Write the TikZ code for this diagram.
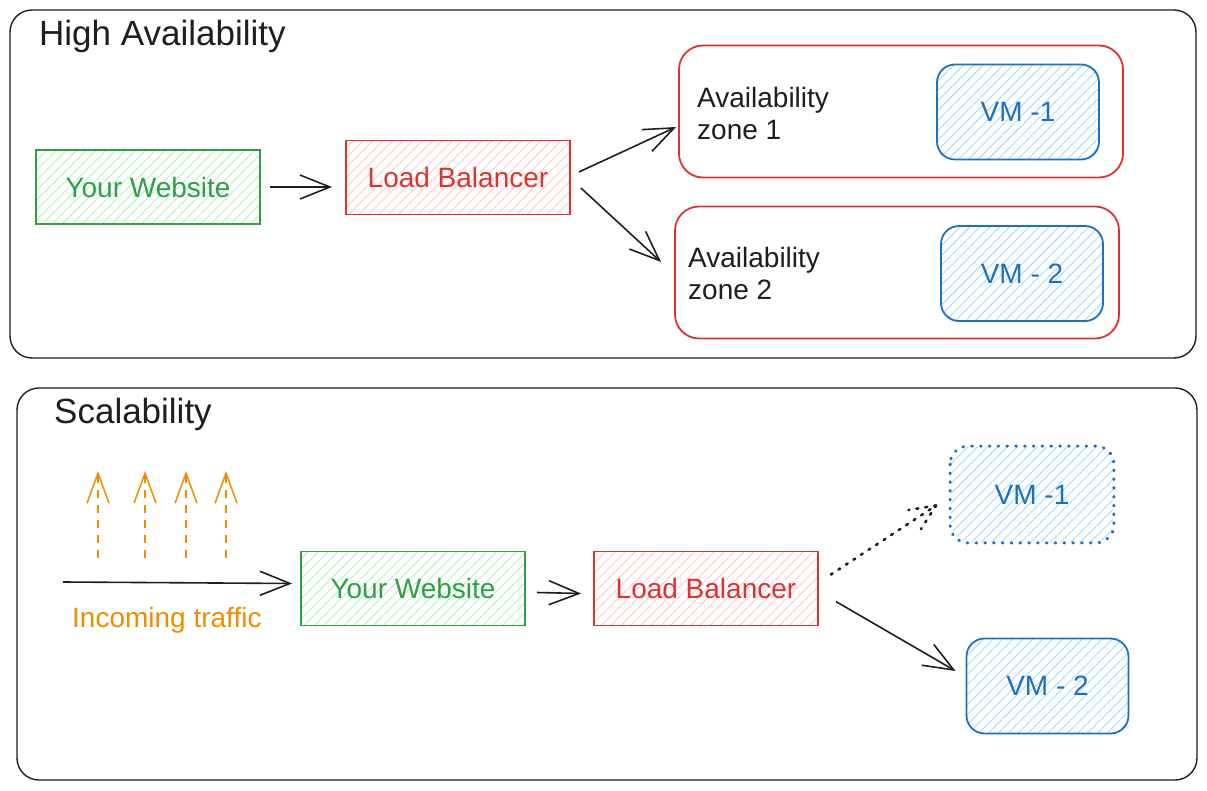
\documentclass[tikz,border=0pt]{standalone}
\usepackage{fontspec}
\setmainfont{Liberation Sans}
\usetikzlibrary{arrows.meta,patterns.meta,calc}
\definecolor{ink}{HTML}{1E1E1E}
\definecolor{gstroke}{HTML}{2F9E44}
\definecolor{gfill}{HTML}{B2F2BB}
\definecolor{rstroke}{HTML}{E03131}
\definecolor{rfill}{HTML}{FFC9C9}
\definecolor{bstroke}{HTML}{1971C2}
\definecolor{bfill}{HTML}{A5D8FF}
\definecolor{ostroke}{HTML}{F08C00}
\tikzset{
  x=1pt,y=-1pt,
  every node/.style={font=\fontsize{28}{32}\selectfont, inner sep=0pt},
  panel/.style={draw=ink, line width=1.4pt, rounded corners=22pt},
  titletxt/.style={font=\fontsize{35}{40}\selectfont, text=ink, anchor=west},
  greenbox/.style={draw=gstroke, line width=1.8pt, text=gstroke, minimum width=224pt, minimum height=74pt,
    pattern={Lines[angle=45,distance=7pt,line width=0.9pt]}, pattern color=gfill},
  redbox/.style={draw=rstroke, line width=1.8pt, text=rstroke, minimum width=224pt, minimum height=74pt,
    pattern={Lines[angle=45,distance=7pt,line width=0.9pt]}, pattern color=rfill},
  zonebox/.style={draw=rstroke, line width=1.8pt, rounded corners=24pt, minimum width=444pt, minimum height=132pt},
  vmbox/.style={draw=bstroke, line width=1.8pt, text=bstroke, rounded corners=18pt, minimum width=162pt, minimum height=95pt,
    pattern={Lines[angle=45,distance=7pt,line width=0.9pt]}, pattern color=bfill},
  conn/.style={draw=ink, line width=1.6pt, -{Straight Barb[length=30pt,width=24pt,line width=1.6pt]}},
  upflow/.style={draw=ostroke, line width=1.5pt, dash pattern=on 8pt off 7pt,
    -{Straight Barb[length=30pt,width=22pt,line width=1.5pt]}},
  dotline/.style={draw=ink, line width=2.6pt, line cap=round, dash pattern=on 2pt off 7pt},
}
\begin{document}
\begin{tikzpicture}
\useasboundingbox (0,0) rectangle (1207,791);

% ---------- High Availability ----------
\draw[panel] (10,10) rectangle (1196,358);
\node[titletxt] (hatitle) at (39,36) {High Availability};

\node[greenbox] (web1) at (148,187) {Your Website};
\node[redbox] (lb1) at (458,177.5) {Load Balancer};

\node[zonebox] (az1) at (901,111.5) {};
\node[zonebox] (az2) at (897,272.5) {};
\node[anchor=west, align=left, text=ink] (az1t) at (697,113) {Availability\\zone 1};
\node[anchor=west, align=left, text=ink] (az2t) at (688,273) {Availability\\zone 2};

\node[vmbox] (vm1a) at (1018,112) {VM -1};
\node[vmbox] (vm2a) at (1022,273.5) {VM - 2};

\draw[conn] ($(web1.east)+(10,0)$) -- ($(lb1.west)+(-13,9.5)$);
\draw[conn] ($(lb1.east)+(8,-5.5)$) -- ($(az1.west)+(-2,15.5)$);
\draw[conn] ($(lb1.east)+(10,10.5)$) -- ($(az2.west)+(-13,-10.5)$);

% ---------- Scalability ----------
\draw[panel] (17,388) rectangle (1197,780);
\node[titletxt] (sctitle) at (54,414) {Scalability};

\coordinate (u1a) at (98,558); \coordinate (u1b) at (98,471);
\coordinate (u2a) at (145,558); \coordinate (u2b) at (145,471);
\coordinate (u3a) at (186,558); \coordinate (u3b) at (186,471);
\coordinate (u4a) at (226,558); \coordinate (u4b) at (226,471);
\draw[upflow] (u1a) -- (u1b);
\draw[upflow] (u2a) -- (u2b);
\draw[upflow] (u3a) -- (u3b);
\draw[upflow] (u4a) -- (u4b);

\node[greenbox] (web2) at (413,588.5) {Your Website};
\node[redbox] (lb2) at (706,588.5) {Load Balancer};
\node[anchor=west, text=ostroke] (traffic) at (72,620) {Incoming traffic};
\coordinate (trin) at (63,582);

\node[vmbox, draw=none] (vm1b) at (1032,494.5) {VM -1};
\draw[draw=bstroke, line width=3pt, line cap=round, dash pattern=on 0.8pt off 8pt, rounded corners=18pt]
  (vm1b.north west) rectangle (vm1b.south east);
\node[vmbox] (vm2b) at (1047.5,686) {VM - 2};

\draw[conn] (trin) -- ($(web2.west)+(-8,-5)$);
\draw[conn] ($(web2.east)+(11,4)$) -- ($(lb2.west)+(-12,5)$);

% dotted connector with dotted head
\coordinate (dstart) at ($(lb2.east)+(12,-14)$);
\coordinate (dtip) at ($(vm1b.west)+(-14,11)$);
\draw[dotline] (dstart) -- (dtip);
\draw[dotline] (dtip) -- ($(dtip)!28pt!24:(dstart)$);
\draw[dotline] (dtip) -- ($(dtip)!28pt!-24:(dstart)$);

\draw[conn] ($(lb2.east)+(17,13)$) -- ($(vm2b.west)+(-10,-15)$);
\end{tikzpicture}
\end{document}
